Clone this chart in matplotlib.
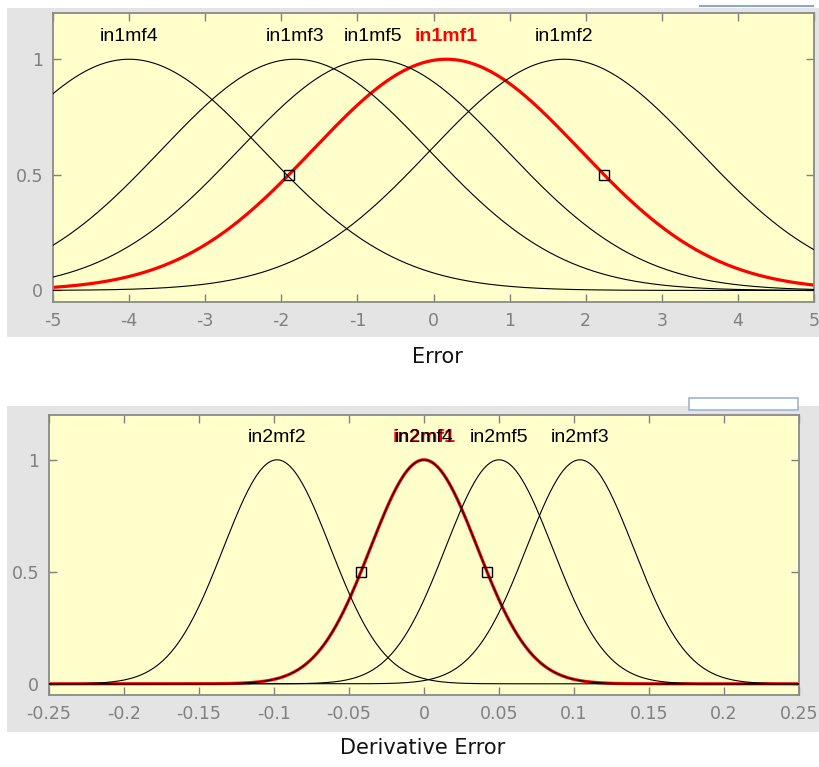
import numpy as np
import matplotlib
matplotlib.use("Agg")
import matplotlib.pyplot as plt
from matplotlib.patches import Rectangle

# ---------------- data ----------------
# Input 1 "Error": Gaussian membership functions [sigma, center]
in1_names = ["in1mf1", "in1mf2", "in1mf3", "in1mf4", "in1mf5"]
in1_sigma = [1.76, 1.76, 1.76, 1.76, 1.76]
in1_center = [0.17, 1.72, -1.82, -4.0, -0.80]
in1_range = [-5, 5]
in1_xticks = [-5, -4, -3, -2, -1, 0, 1, 2, 3, 4, 5]
in1_xticklabels = ["-5", "-4", "-3", "-2", "-1", "0", "1", "2", "3", "4", "5"]
in1_selected = "in1mf1"

# Input 2 "Derivative Error"
in2_names = ["in2mf1", "in2mf2", "in2mf3", "in2mf4", "in2mf5"]
in2_sigma = [0.0357, 0.0357, 0.0357, 0.0357, 0.0357]
in2_center = [0.0, -0.098, 0.104, 0.0, 0.050]
in2_range = [-0.25, 0.25]
in2_xticks = [-0.25, -0.2, -0.15, -0.1, -0.05, 0, 0.05, 0.1, 0.15, 0.2, 0.25]
in2_xticklabels = ["-0.25", "-0.2", "-0.15", "-0.1", "-0.05", "0", "0.05",
                   "0.1", "0.15", "0.2", "0.25"]
in2_selected = "in2mf1"

yticks = [0, 0.5, 1]
yticklabels = ["0", "0.5", "1"]

# ---------------- style ----------------
W, H = 819, 767
fig = plt.figure(figsize=(W / 100, H / 100), dpi=100)
fig.patch.set_facecolor("white")

label_font = "Liberation Sans"
tick_font = "DejaVu Sans"

GRAY_PANEL = "#e4e4e4"
YELLOW = "#ffffcc"
FRAME = "#8a8a8a"
TICKC = "#808080"

# background axes in pixel coordinates for panels
bg = fig.add_axes([0, 0, 1, 1], zorder=-10)
bg.set_xlim(0, W)
bg.set_ylim(H, 0)
bg.axis("off")
for (x0, y0, x1, y1) in [(7, 8, 819, 337), (7, 406, 819, 732)]:
    bg.add_patch(Rectangle((x0, y0), x1 - x0, y1 - y0, facecolor=GRAY_PANEL,
                           edgecolor="none"))
bg.plot([700, 813], [6, 6], color="#8fa8c8", lw=1.5)
bg.add_patch(Rectangle((689, 398), 109, 12, facecolor="white", edgecolor="#9fb4d0", lw=1.2))


def px_rect(x0, y0, x1, y1):
    """pixel box (top-left origin) -> figure fraction rect"""
    return [x0 / W, 1 - y1 / H, (x1 - x0) / W, (y1 - y0) / H]


def gaussmf(x, s, c):
    return np.exp(-((x - c) ** 2) / (2 * s ** 2))


def draw_panel(rect, names, sigmas, centers, xr, xticks, xticklabels, selected, xlabel, xlabel_pos):
    ax = fig.add_axes(rect, zorder=1)
    ax.set_facecolor(YELLOW)
    ax.set_xlim(xr)
    ax.set_ylim(-0.05, 1.2)
    x = np.linspace(xr[0], xr[1], 401)
    sel_idx = names.index(selected)
    s, c = sigmas[sel_idx], centers[sel_idx]
    ax.plot(x, gaussmf(x, s, c), color="red", lw=2.3, zorder=2)
    ax.text(c, 1.1, names[sel_idx], ha="center", va="center", fontsize=14,
            family=label_font, color="red", fontweight="bold", zorder=4)
    for i, (n, si, ci) in enumerate(zip(names, sigmas, centers)):
        if i == sel_idx:
            continue
        ax.plot(x, gaussmf(x, si, ci), color="black", lw=0.8, zorder=3)
        ax.text(ci, 1.1, n, ha="center", va="center", fontsize=14,
                family=label_font, color="black", zorder=5)
    # half-height handles on the selected MF
    hx = np.array([c - s * np.sqrt(2 * np.log(2)), c + s * np.sqrt(2 * np.log(2))])
    ax.plot(hx, gaussmf(hx, s, c), ls="none", marker="s", ms=7, mfc="none",
            mec="black", mew=1.0, zorder=6)
    ax.set_xticks(xticks)
    ax.set_xticklabels(xticklabels)
    ax.set_yticks(yticks)
    ax.set_yticklabels(yticklabels)
    ax.tick_params(direction="in", length=5.5, width=1, color=TICKC,
                   top=True, right=True, labelsize=12.5, labelcolor=TICKC, pad=7)
    for lab in ax.get_xticklabels() + ax.get_yticklabels():
        lab.set_family(tick_font)
    for sp in ax.spines.values():
        sp.set_color(FRAME)
        sp.set_linewidth(1.3)
    fig.text(xlabel_pos[0] / W, 1 - xlabel_pos[1] / H, xlabel, ha="center", va="center",
             fontsize=15, family=tick_font, color="#111111")
    return ax


draw_panel(px_rect(53, 13, 814, 302), in1_names, in1_sigma, in1_center, in1_range,
           in1_xticks, in1_xticklabels, in1_selected, "Error", (437, 357))
draw_panel(px_rect(49, 415, 799, 695), in2_names, in2_sigma, in2_center, in2_range,
           in2_xticks, in2_xticklabels, in2_selected, "Derivative Error", (423, 748))

fig.savefig("out.png", dpi=100)
